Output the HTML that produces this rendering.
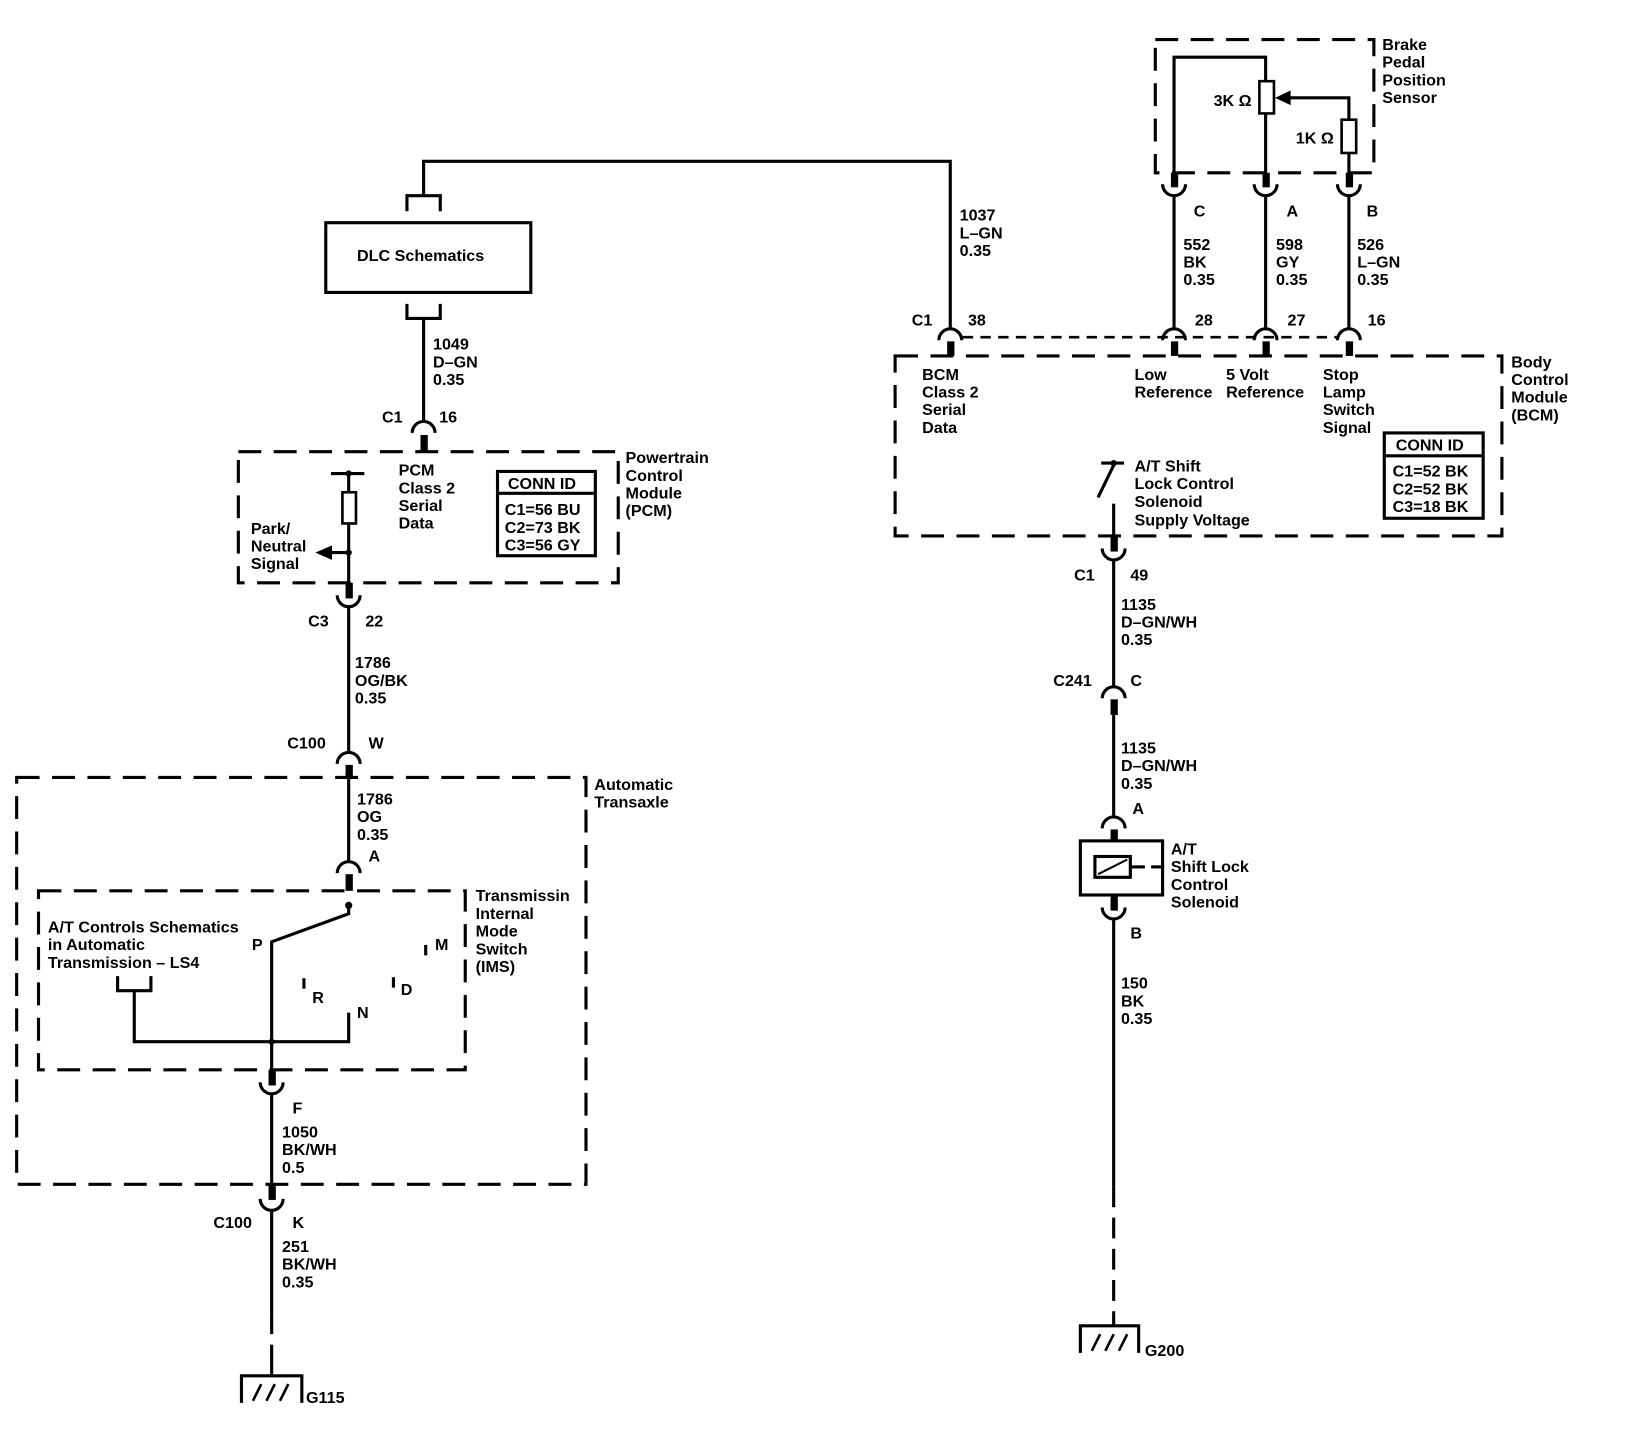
<!DOCTYPE html>
<html><head><meta charset="utf-8"><style>
html,body{margin:0;padding:0;background:#fff}
svg{display:block}
text{font-family:"Liberation Sans",Arial,sans-serif;font-weight:bold;font-size:15.5px;fill:#000}
</style></head><body>
<svg width="1632" height="1432" viewBox="0 0 1568 1376" preserveAspectRatio="none" xmlns="http://www.w3.org/2000/svg">
<g fill="none" stroke="#000" stroke-width="3">
<!-- top wire -->
<polyline points="407,188 407,155 913,155 913,316"/>
<path d="M391,203 V188 H423 V203"/>
<rect x="313" y="214" width="197" height="67"/>
<path d="M391,292 V306 H423 V292"/>
<line x1="407" y1="306" x2="407" y2="404"/>
<path d="M396,416 A11 11 0 0 1 418,416"/>
<!-- PCM box -->
<rect x="229" y="434" width="365" height="126" stroke-dasharray="22,12"/>
<rect x="478" y="453" width="94" height="81"/>
<line x1="478" y1="474" x2="572" y2="474"/>
<line x1="318" y1="455" x2="350" y2="455"/>
<line x1="335" y1="455" x2="335" y2="473"/>
<rect x="329" y="473" width="13" height="30" stroke-width="2.5"/>
<line x1="335" y1="503" x2="335" y2="560"/>
<line x1="318" y1="531" x2="335" y2="531"/>
<path d="M324,572 A11 11 0 0 0 346,572"/>
<line x1="335" y1="583" x2="335" y2="723"/>
<path d="M324,734 A11 11 0 0 1 346,734"/>
<!-- Automatic Transaxle box -->
<rect x="16" y="747" width="547" height="391" stroke-dasharray="22,12"/>
<line x1="335" y1="748" x2="335" y2="828"/>
<path d="M324,839 A11 11 0 0 1 346,839"/>
<!-- IMS box -->
<rect x="37" y="856" width="410" height="172" stroke-dasharray="22,12"/>
<polyline points="335,870 335,878 261,905 261,1040"/>
<polyline points="129,952 129,1001 335,1001 335,973"/>
<path d="M113,938 V952 H145 V938"/>
<line x1="292" y1="940" x2="292" y2="950"/>
<line x1="378" y1="939" x2="378" y2="949"/>
<line x1="409" y1="908" x2="409" y2="918"/>
<path d="M250,1040 A11 11 0 0 0 272,1040"/>
<line x1="261" y1="1051" x2="261" y2="1140"/>
<path d="M250,1152 A11 11 0 0 0 272,1152"/>
<line x1="261" y1="1163" x2="261" y2="1262"/>
<line x1="261" y1="1262" x2="261" y2="1310" stroke-dasharray="20,10"/>
<line x1="261" y1="1310" x2="261" y2="1322"/>
<path d="M232,1348 V1322 H290 V1348"/>
<path d="M243,1346 L251,1330 M256,1346 L264,1330 M269,1346 L277,1330" stroke-width="2.5"/>
<!-- Brake box -->
<rect x="1110" y="38" width="210" height="128" stroke-dasharray="22,12"/>
<polyline points="1128,177 1128,55 1216,55 1216,78"/>
<rect x="1210" y="78" width="14" height="31" stroke-width="2.5"/>
<line x1="1216" y1="109" x2="1216" y2="177"/>
<polyline points="1296,115 1296,94 1238,94"/>
<rect x="1289" y="115" width="14" height="32" stroke-width="2.5"/>
<line x1="1296" y1="147" x2="1296" y2="177"/>
<path d="M1117,177 A11 11 0 0 0 1139,177 M1205,177 A11 11 0 0 0 1227,177 M1285,177 A11 11 0 0 0 1307,177"/>
<line x1="1128" y1="188" x2="1128" y2="316"/>
<line x1="1216" y1="188" x2="1216" y2="316"/>
<line x1="1296" y1="188" x2="1296" y2="316"/>
<path d="M902,327 A11 11 0 0 1 924,327 M1117,327 A11 11 0 0 1 1139,327 M1205,327 A11 11 0 0 1 1227,327 M1285,327 A11 11 0 0 1 1307,327"/>
<line x1="925" y1="324" x2="1284" y2="324" stroke-dasharray="10,7" stroke-width="2.5"/>
<!-- BCM box -->
<rect x="860" y="342" width="583" height="173" stroke-dasharray="22,12"/>
<rect x="1330" y="416" width="95" height="82"/>
<line x1="1330" y1="438" x2="1425" y2="438"/>
<line x1="1058" y1="445" x2="1080" y2="445"/>
<line x1="1070" y1="447" x2="1055" y2="478"/>
<line x1="1070" y1="484" x2="1070" y2="515"/>
<path d="M1059,527 A11 11 0 0 0 1081,527"/>
<line x1="1070" y1="538" x2="1070" y2="660"/>
<path d="M1059,671 A11 11 0 0 1 1081,671"/>
<line x1="1070" y1="687" x2="1070" y2="785"/>
<path d="M1059,796 A11 11 0 0 1 1081,796"/>
<rect x="1038" y="808" width="79" height="52"/>
<rect x="1052" y="823" width="34" height="20"/>
<line x1="1055" y1="840" x2="1083" y2="826" stroke-width="2"/>
<line x1="1086" y1="833" x2="1100" y2="833"/>
<line x1="1106" y1="833" x2="1117" y2="833"/>
<path d="M1059,872 A11 11 0 0 0 1081,872"/>
<line x1="1070" y1="883" x2="1070" y2="1140"/>
<line x1="1070" y1="1140" x2="1070" y2="1262" stroke-dasharray="20,10"/>
<line x1="1070" y1="1262" x2="1070" y2="1274"/>
<path d="M1038,1300 V1274 H1094 V1300"/>
<path d="M1049,1298 L1057,1282 M1062,1298 L1070,1282 M1075,1298 L1083,1282" stroke-width="2.5"/>
</g>
<g fill="#000">
<!-- thick stubs -->
<rect x="404" y="418" width="7" height="15"/>
<rect x="332" y="560" width="7" height="15"/>
<rect x="332" y="735" width="7" height="13"/>
<rect x="332" y="840" width="7" height="16"/>
<rect x="258" y="1028" width="7" height="15"/>
<rect x="258" y="1138" width="7" height="15"/>
<rect x="1125" y="166" width="7" height="14"/>
<rect x="1213" y="166" width="7" height="14"/>
<rect x="1293" y="166" width="7" height="14"/>
<rect x="910" y="328" width="7" height="14"/>
<rect x="1125" y="328" width="7" height="14"/>
<rect x="1213" y="328" width="7" height="14"/>
<rect x="1293" y="328" width="7" height="14"/>
<rect x="1067" y="515" width="7" height="15"/>
<rect x="1067" y="672" width="7" height="15"/>
<rect x="1067" y="797" width="7" height="11"/>
<rect x="1067" y="860" width="7" height="15"/>
<circle cx="335" cy="455" r="3"/><circle cx="335" cy="531" r="3"/>
<circle cx="335" cy="870" r="3.5"/><circle cx="261" cy="1001" r="3"/>
<circle cx="1070" cy="445" r="3"/>
<polygon points="303,531 319,524 319,538"/>
<polygon points="1225,94 1240,87 1240,101"/>
</g>
<text x="343" y="251">DLC Schematics</text>
<text x="416" y="336">1049</text><text x="416" y="353">D–GN</text><text x="416" y="370">0.35</text>
<text x="367" y="406">C1</text><text x="422" y="406">16</text>
<text x="383" y="457">PCM</text><text x="383" y="474">Class 2</text><text x="383" y="491">Serial</text><text x="383" y="508">Data</text>
<text x="601" y="445">Powertrain</text><text x="601" y="462">Control</text><text x="601" y="479">Module</text><text x="601" y="496">(PCM)</text>
<text x="488" y="470">CONN ID</text>
<text x="485" y="495">C1=56 BU</text><text x="485" y="512">C2=73 BK</text><text x="485" y="529">C3=56 GY</text>
<text x="241" y="513">Park/</text><text x="241" y="530">Neutral</text><text x="241" y="547">Signal</text>
<text x="296" y="602">C3</text><text x="351" y="602">22</text>
<text x="341" y="642">1786</text><text x="341" y="659">OG/BK</text><text x="341" y="676">0.35</text>
<text x="276" y="719">C100</text><text x="354" y="719">W</text>
<text x="571" y="759">Automatic</text><text x="571" y="776">Transaxle</text>
<text x="343" y="773">1786</text><text x="343" y="790">OG</text><text x="343" y="807">0.35</text>
<text x="354" y="828">A</text>
<text x="457" y="866">Transmissin</text><text x="457" y="883">Internal</text><text x="457" y="900">Mode</text><text x="457" y="917">Switch</text><text x="457" y="934">(IMS)</text>
<text x="46" y="896">A/T Controls Schematics</text><text x="46" y="913">in Automatic</text><text x="46" y="930">Transmission – LS4</text>
<text x="242" y="913">P</text><text x="300" y="964">R</text><text x="343" y="978">N</text><text x="385" y="956">D</text><text x="418" y="913">M</text>
<text x="281" y="1070">F</text>
<text x="271" y="1093">1050</text><text x="271" y="1110">BK/WH</text><text x="271" y="1127">0.5</text>
<text x="205" y="1180">C100</text><text x="281" y="1180">K</text>
<text x="271" y="1203">251</text><text x="271" y="1220">BK/WH</text><text x="271" y="1237">0.35</text>
<text x="294" y="1348">G115</text>
<text x="922" y="212">1037</text><text x="922" y="229">L–GN</text><text x="922" y="246">0.35</text>
<text x="876" y="313">C1</text><text x="930" y="313">38</text>
<text x="1328" y="48">Brake</text><text x="1328" y="65">Pedal</text><text x="1328" y="82">Position</text><text x="1328" y="99">Sensor</text>
<text x="1166" y="102">3K Ω</text><text x="1245" y="138">1K Ω</text>
<text x="1147" y="208">C</text><text x="1236" y="208">A</text><text x="1313" y="208">B</text>
<text x="1137" y="240">552</text><text x="1137" y="257">BK</text><text x="1137" y="274">0.35</text>
<text x="1226" y="240">598</text><text x="1226" y="257">GY</text><text x="1226" y="274">0.35</text>
<text x="1304" y="240">526</text><text x="1304" y="257">L–GN</text><text x="1304" y="274">0.35</text>
<text x="1148" y="313">28</text><text x="1237" y="313">27</text><text x="1314" y="313">16</text>
<text x="886" y="365">BCM</text><text x="886" y="382">Class 2</text><text x="886" y="399">Serial</text><text x="886" y="416">Data</text>
<text x="1090" y="365">Low</text><text x="1090" y="382">Reference</text>
<text x="1178" y="365">5 Volt</text><text x="1178" y="382">Reference</text>
<text x="1271" y="365">Stop</text><text x="1271" y="382">Lamp</text><text x="1271" y="399">Switch</text><text x="1271" y="416">Signal</text>
<text x="1452" y="353">Body</text><text x="1452" y="370">Control</text><text x="1452" y="387">Module</text><text x="1452" y="404">(BCM)</text>
<text x="1341" y="433">CONN ID</text>
<text x="1338" y="458">C1=52 BK</text><text x="1338" y="475">C2=52 BK</text><text x="1338" y="492">C3=18 BK</text>
<text x="1090" y="453">A/T Shift</text><text x="1090" y="470">Lock Control</text><text x="1090" y="487">Solenoid</text><text x="1090" y="505">Supply Voltage</text>
<text x="1032" y="558">C1</text><text x="1086" y="558">49</text>
<text x="1077" y="586">1135</text><text x="1077" y="603">D–GN/WH</text><text x="1077" y="620">0.35</text>
<text x="1012" y="659">C241</text><text x="1086" y="659">C</text>
<text x="1077" y="724">1135</text><text x="1077" y="741">D–GN/WH</text><text x="1077" y="758">0.35</text>
<text x="1088" y="782">A</text>
<text x="1125" y="821">A/T</text><text x="1125" y="838">Shift Lock</text><text x="1125" y="855">Control</text><text x="1125" y="872">Solenoid</text>
<text x="1086" y="902">B</text>
<text x="1077" y="950">150</text><text x="1077" y="967">BK</text><text x="1077" y="984">0.35</text>
<text x="1100" y="1303">G200</text>
</svg>
</body></html>
